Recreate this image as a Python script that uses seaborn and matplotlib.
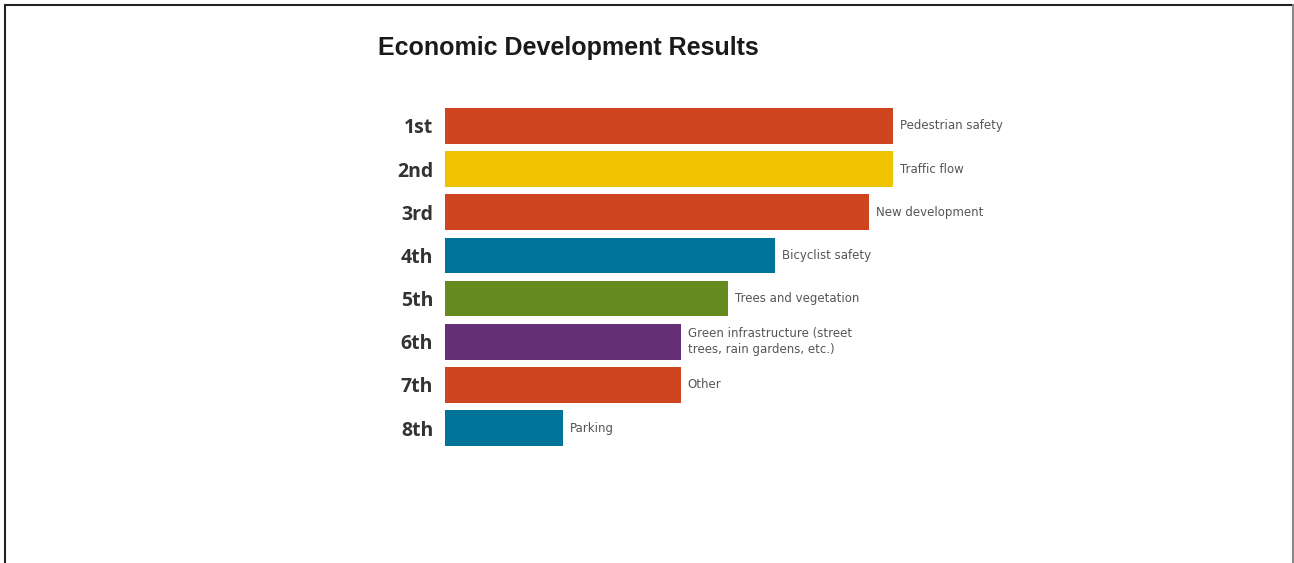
import pandas as pd
import matplotlib.pyplot as plt
import seaborn as sns
from matplotlib.lines import Line2D

# data
ranks = ["1st", "2nd", "3rd", "4th", "5th", "6th", "7th", "8th"]
topics = [
    "Pedestrian safety",
    "Traffic flow",
    "New development",
    "Bicyclist safety",
    "Trees and vegetation",
    "Green infrastructure (street\ntrees, rain gardens, etc.)",
    "Other",
    "Parking",
]
scores = [95, 95, 90, 70, 60, 50, 50, 25]
bar_colors = ["#CF4520", "#F0C300", "#CF4520", "#007398",
              "#658B1F", "#652F77", "#CF4520", "#007398"]

df = pd.DataFrame({"rank": ranks, "topic": topics, "score": scores})

sns.set_theme(style="white")
plt.rcParams["font.family"] = ["DejaVu Sans"]

W, H = 1294, 563
fig = plt.figure(figsize=(W / 100, H / 100), dpi=100)
ax = fig.add_axes([445 / W, 1 - 449.6 / H, 471.6 / W, (449.6 - 104.4) / H])

sns.barplot(
    data=df,
    x="score",
    y="rank",
    hue="rank",
    palette=bar_colors,
    saturation=1,
    orient="h",
    width=0.83,
    legend=False,
    linewidth=0,
    ax=ax,
)
ax.set_xlim(0, 100)
ax.set_ylim(7.5, -0.5)
ax.set_xlabel("")
ax.set_ylabel("")
ax.set_xticks([])
sns.despine(ax=ax, left=True, bottom=True)
ax.tick_params(axis="y", length=0, pad=8.5, labelsize=14, labelcolor="#333333")
for lbl in ax.get_yticklabels():
    lbl.set_family(["Open Sans", "DejaVu Sans"])
    lbl.set_fontweight("bold")

# text labels at the end of each bar
for i, row in df.iterrows():
    ax.annotate(row["topic"], xy=(row["score"], i), xytext=(5, 0),
                textcoords="offset points", va="center", ha="left",
                fontsize=8.5, color="#555555", linespacing=1.3)

fig.text(378 / W, 1 - 48 / H, "Economic Development Results",
         family=["Liberation Sans", "DejaVu Sans"], fontweight="bold",
         fontsize=18, color="#1a1a1a", va="center", ha="left")

# frame around the slide (no bottom edge)
lc = "#222222"
fig.add_artist(Line2D([4.5 / W, 4.5 / W], [0, 1 - 4.5 / H], transform=fig.transFigure, color=lc, lw=1.5))
fig.add_artist(Line2D([4.5 / W, 1 - 1.5 / W], [1 - 4.5 / H, 1 - 4.5 / H], transform=fig.transFigure, color=lc, lw=1.5))
fig.add_artist(Line2D([1 - 1.5 / W, 1 - 1.5 / W], [0, 1 - 4.5 / H], transform=fig.transFigure, color="#888888", lw=1.5))

fig.savefig("out.png", dpi=100)
plt.close(fig)
